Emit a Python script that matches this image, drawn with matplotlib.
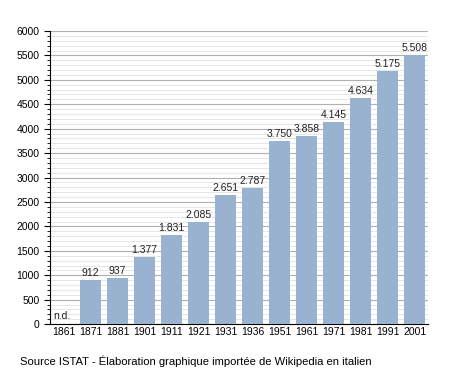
import matplotlib.pyplot as plt
from matplotlib.ticker import MultipleLocator

years = ["1861", "1871", "1881", "1901", "1911", "1921", "1931", "1936",
         "1951", "1961", "1971", "1981", "1991", "2001"]
values = [0, 912, 937, 1377, 1831, 2085, 2651, 2787,
          3750, 3858, 4145, 4634, 5175, 5508]
labels = ["n.d.", "912", "937", "1.377", "1.831", "2.085", "2.651", "2.787",
          "3.750", "3.858", "4.145", "4.634", "5.175", "5.508"]

plt.rcParams['font.family'] = ['Liberation Sans', 'DejaVu Sans']

fig = plt.figure(figsize=(4.55, 3.73), dpi=100)
ax = fig.add_axes([0.110, 0.131, 0.831, 0.786])

x = range(len(years))
ax.bar(x, values, width=0.78, color="#98b2d0", zorder=3)
for i, (v, t) in enumerate(zip(values, labels)):
    if t == "n.d.":
        ax.text(i - 0.38, 60, t, ha="left", va="bottom", fontsize=7.5, color="#222222")
    else:
        ax.text(i, v + 40, t, ha="center", va="bottom", fontsize=7.5, color="#222222")

ax.set_xlim(-0.5, len(years) - 0.5)
ax.set_ylim(0, 6000)
ax.set_xticks(list(x))
ax.set_xticklabels(years, fontsize=7.5)
ax.yaxis.set_major_locator(MultipleLocator(500))
ax.yaxis.set_minor_locator(MultipleLocator(100))
ax.tick_params(axis="y", labelsize=7.5, length=4, width=0.8)
ax.tick_params(axis="y", which="minor", length=2, width=0.6)
ax.tick_params(axis="x", length=0, pad=2)
ax.grid(axis="y", which="major", color="#b0b0b0", linewidth=0.8, zorder=0)
ax.grid(axis="y", which="minor", color="#e2e2e2", linewidth=0.6, zorder=0)
for s in ["top", "right"]:
    ax.spines[s].set_visible(False)
ax.spines["left"].set_linewidth(0.8)
ax.spines["bottom"].set_linewidth(0.8)

fig.text(0.044, 0.016, "Source ISTAT - Élaboration graphique importée de Wikipedia en italien",
         fontsize=8.1, ha="left", va="bottom")

plt.savefig("out.png", dpi=100)
plt.close()
